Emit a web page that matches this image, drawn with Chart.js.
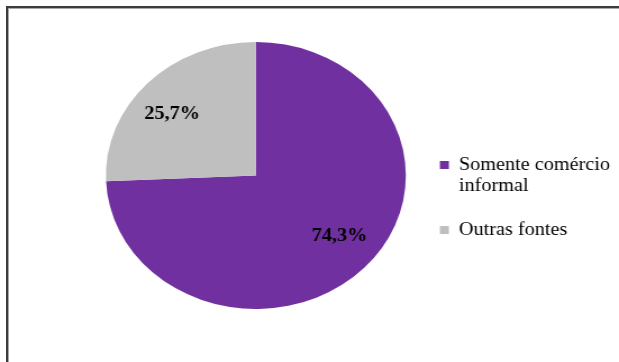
<!DOCTYPE html>
<html>
<head>
<meta charset="utf-8">
<script src="https://cdn.jsdelivr.net/npm/chart.js@4/dist/chart.umd.min.js"></script>
<style>
	html, body {
		margin: 0;
		padding: 0;
		background: #fff;
		overflow: hidden;
		width: 619px;
		height: 362px;
	}
	#frame {
		position: absolute;
		left: 6px;
		top: 6px;
		width: 700px;
		height: 400px;
		border-top: 2px solid #3c3c3c;
		border-left: 2px solid #3c3c3c;
		box-shadow: inset 1px 1px 0 #a8a8a8;
	}
	#wrap {
		position: absolute;
		left: 0;
		top: 0;
		width: 553px;
		height: 362px;
		transform: scaleX(1.1234);
		transform-origin: 0 0;
	}
</style>
</head>
<body>
<div id="frame"></div>
<div id="wrap"><canvas id="myCanvas"></canvas></div>
<script>
const labels = [["Somente comércio", "informal"], "Outras fontes"];
const values = [74.3, 25.7];
const colors = ["#7030A0", "#BFBFBF"];

const serif = '"Liberation Serif", "Times New Roman", serif';

// percent text drawn inside each slice
const sliceLabels = {
	id: "sliceLabels",
	afterDatasetsDraw(chart) {
		const ctx = chart.ctx;
		const meta = chart.getDatasetMeta(0);
		ctx.save();
		ctx.font = "bold 18px " + serif;
		ctx.fillStyle = "#000";
		ctx.textAlign = "center";
		ctx.textBaseline = "middle";
		meta.data.forEach((arc, i) => {
			const p = arc.getProps(["x", "y", "startAngle", "endAngle", "outerRadius"], true);
			const mid = (p.startAngle + p.endAngle) / 2 - 0.08;
			const r = p.outerRadius * 0.72;
			const text = values[i].toFixed(1).replace(".", ",") + "%";
			ctx.fillText(text, p.x + Math.cos(mid) * r, p.y + Math.sin(mid) * r);
		});
		ctx.restore();
	},
};

const ctx = document.getElementById("myCanvas").getContext("2d");
const myChart = new Chart(ctx, {
	type: "pie",
	data: {
		labels: labels,
		datasets: [
			{
				data: values,
				backgroundColor: colors,
				borderWidth: 0,
			},
		],
	},
	options: {
		responsive: true,
		maintainAspectRatio: false,
		animation: false,
		layout: {
			padding: { left: 86, top: 42, bottom: 53, right: 0 },
		},
		plugins: {
			tooltip: { enabled: false },
			legend: {
				position: "right",
				title: {
					display: true,
					text: "",
					font: { size: 10 },
					padding: { top: 32, bottom: 0 },
				},
				labels: {
					color: "#000",
					font: { family: serif, size: 18 },
					boxWidth: 8,
					boxHeight: 8,
					padding: 22,
				},
			},
		},
	},
	plugins: [sliceLabels],
});
</script>
</body>
</html>
